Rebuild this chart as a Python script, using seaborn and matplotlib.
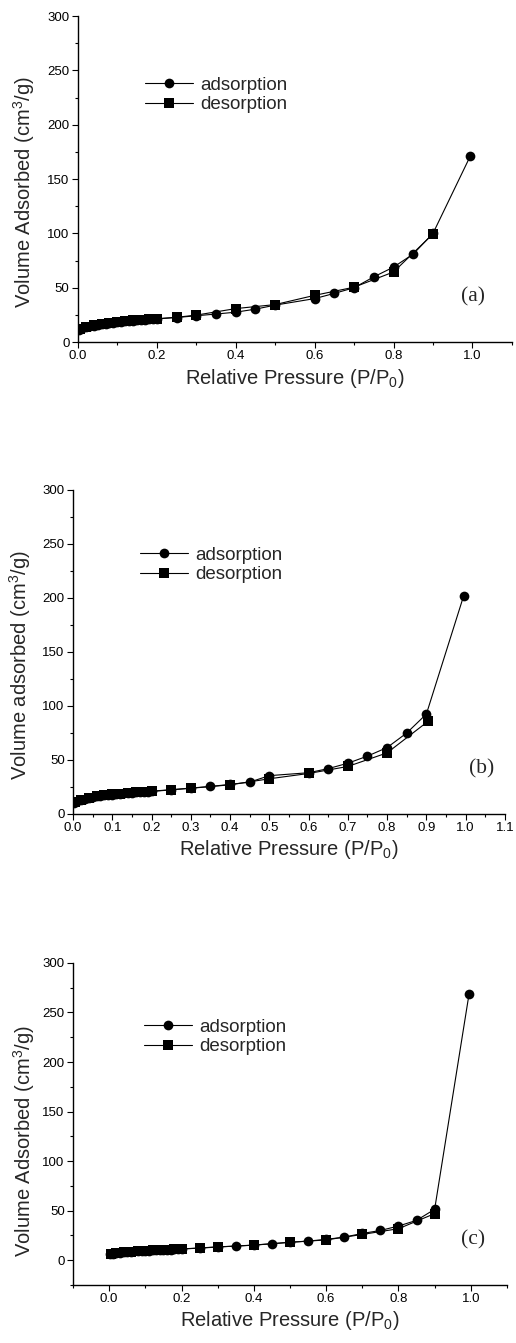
import matplotlib
matplotlib.use("Agg")
import matplotlib.pyplot as plt
from matplotlib.ticker import MultipleLocator
import seaborn as sns

# panel (a)
a_ads_x = [0.003, 0.01, 0.02, 0.03, 0.04, 0.05, 0.06, 0.07, 0.08, 0.09, 0.10, 0.11, 0.12, 0.13,
           0.14, 0.15, 0.16, 0.17, 0.18, 0.19, 0.20, 0.25, 0.30, 0.35, 0.40, 0.45, 0.50, 0.60,
           0.65, 0.70, 0.75, 0.80, 0.85, 0.90, 0.995]
a_ads_y = [11.0, 12.5, 13.6, 14.5, 15.2, 15.8, 16.4, 16.9, 17.4, 17.8, 18.2, 18.6, 19.0, 19.3,
           19.6, 19.9, 20.2, 20.5, 20.8, 21.0, 21.3, 22.6, 24.2, 25.8, 27.5, 30.3, 34.0, 40.0,
           44.8, 50.0, 60.0, 69.0, 81.0, 100.0, 171.5]
a_des_x = [0.90, 0.80, 0.70, 0.60, 0.50, 0.40, 0.30, 0.25, 0.20, 0.18, 0.16, 0.14, 0.12, 0.10,
           0.08, 0.06, 0.04, 0.02, 0.005]
a_des_y = [99.5, 64.5, 50.5, 43.0, 34.5, 30.8, 24.8, 22.8, 21.5, 21.0, 20.5, 20.0, 19.4, 18.7,
           17.9, 16.9, 15.6, 13.9, 11.8]

# panel (b)
b_ads_x = [0.003, 0.01, 0.02, 0.03, 0.04, 0.05, 0.06, 0.07, 0.08, 0.09, 0.10, 0.11, 0.12, 0.13,
           0.14, 0.15, 0.16, 0.17, 0.18, 0.19, 0.20, 0.25, 0.30, 0.35, 0.40, 0.45, 0.50, 0.60,
           0.65, 0.70, 0.75, 0.80, 0.85, 0.90, 0.995]
b_ads_y = [10.5, 12.2, 13.4, 14.3, 15.0, 15.6, 16.2, 16.7, 17.2, 17.6, 18.0, 18.4, 18.8, 19.1,
           19.4, 19.7, 20.0, 20.3, 20.6, 20.8, 21.1, 22.5, 24.0, 25.5, 27.4, 29.5, 35.5, 38.2,
           42.0, 47.0, 53.6, 61.5, 75.0, 92.5, 202.0]
b_des_x = [0.905, 0.80, 0.70, 0.60, 0.50, 0.40, 0.30, 0.25, 0.20, 0.18, 0.16, 0.14, 0.12, 0.10,
           0.08, 0.06, 0.04, 0.02, 0.005]
b_des_y = [86.0, 56.6, 44.0, 37.5, 32.6, 27.0, 23.8, 22.3, 20.9, 20.4, 19.9, 19.4, 18.8, 18.1,
           17.3, 16.3, 15.0, 13.3, 11.2]

# panel (c)
c_ads_x = [0.003, 0.01, 0.02, 0.03, 0.04, 0.05, 0.06, 0.07, 0.08, 0.09, 0.10, 0.11, 0.12, 0.13,
           0.14, 0.15, 0.16, 0.17, 0.18, 0.19, 0.20, 0.25, 0.30, 0.35, 0.40, 0.45, 0.50, 0.55,
           0.60, 0.65, 0.70, 0.75, 0.80, 0.85, 0.90, 0.995]
c_ads_y = [6.0, 6.6, 7.1, 7.5, 7.9, 8.2, 8.5, 8.8, 9.0, 9.2, 9.4, 9.6, 9.8, 10.0,
           10.2, 10.4, 10.6, 10.8, 11.0, 11.2, 11.4, 12.3, 13.5, 14.2, 15.2, 16.6, 18.2, 19.3,
           21.0, 23.3, 27.0, 30.0, 34.5, 40.2, 51.4, 268.3]
c_des_x = [0.90, 0.80, 0.70, 0.60, 0.50, 0.40, 0.30, 0.25, 0.20, 0.18, 0.16, 0.14, 0.12, 0.10,
           0.08, 0.06, 0.04, 0.02, 0.005]
c_des_y = [47.0, 31.8, 26.0, 20.5, 18.0, 15.3, 13.3, 12.2, 11.3, 11.0, 10.7, 10.4, 10.0, 9.6,
           9.1, 8.6, 8.0, 7.2, 6.3]

ylabels = ["Volume Adsorbed (cm$^3$/g)", "Volume adsorbed (cm$^3$/g)", "Volume Adsorbed (cm$^3$/g)"]
tags = ["(a)", "(b)", "(c)"]

sns.set_style("ticks")
plt.rcParams["font.family"] = ["Liberation Sans", "DejaVu Sans"]
plt.rcParams["mathtext.default"] = "regular"

fig = plt.figure(figsize=(5.16, 13.43), dpi=100)
axes = [
    fig.add_axes([0.151, 0.7453, 0.841, 0.2427]),
    fig.add_axes([0.1415, 0.3939, 0.837, 0.2413]),
    fig.add_axes([0.1415, 0.0432, 0.841, 0.2398]),
]

panels = [
    (a_ads_x, a_ads_y, a_des_x, a_des_y),
    (b_ads_x, b_ads_y, b_des_x, b_des_y),
    (c_ads_x, c_ads_y, c_des_x, c_des_y),
]
leg_anchor = [(0.154, 0.758), (0.155, 0.768), (0.164, 0.770)]
tag_pos = [(0.910, 0.140), (0.945, 0.138), (0.921, 0.140)]

for i, (ax, (ax_x, ax_y, dx, dy)) in enumerate(zip(axes, panels)):
    sns.lineplot(x=ax_x, y=ax_y, ax=ax, sort=False, estimator=None, color="black",
                 marker="o", markersize=7, markeredgewidth=0, linewidth=0.8, label="adsorption")
    sns.lineplot(x=dx, y=dy, ax=ax, sort=False, estimator=None, color="black",
                 marker="s", markersize=6.5, markeredgewidth=0, linewidth=0.8, label="desorption")

    sns.despine(ax=ax)
    ax.set_ylim(0, 300)
    ax.yaxis.set_major_locator(MultipleLocator(50))
    ax.yaxis.set_minor_locator(MultipleLocator(25))
    ax.set_xlim(0, 1.1)
    if i == 1:
        ax.xaxis.set_major_locator(MultipleLocator(0.1))
        ax.xaxis.set_minor_locator(MultipleLocator(0.05))
    else:
        ax.xaxis.set_major_locator(MultipleLocator(0.2))
        ax.xaxis.set_minor_locator(MultipleLocator(0.1))
    if i == 2:
        ax.set_xlim(-0.1, 1.1)
        ax.set_ylim(-25, 300)
        ax.set_xticks([0.0, 0.2, 0.4, 0.6, 0.8, 1.0])
        ax.set_yticks([0, 50, 100, 150, 200, 250, 300])

    ax.tick_params(which="major", direction="out", length=4, width=0.8, labelsize=9.5, pad=2,
                   color="black", labelcolor="black")
    ax.tick_params(which="minor", direction="out", length=2.5, width=0.8, color="black")
    for s in ["left", "bottom"]:
        ax.spines[s].set_linewidth(1.0)
        ax.spines[s].set_color("black")

    ax.set_xlabel("Relative Pressure (P/P$_0$)", fontsize=14.5, labelpad=3)
    ax.set_ylabel(ylabels[i], fontsize=14.5)

    ax.legend(loc="center left", bbox_to_anchor=leg_anchor[i],
              frameon=False, fontsize=13.5, handlelength=2.55, handletextpad=0.4,
              labelspacing=0.12, borderpad=0, borderaxespad=0)

    tx, ty = tag_pos[i]
    ax.text(tx, ty, tags[i], transform=ax.transAxes, ha="center", va="center",
            fontsize=15.5, family=["Liberation Serif", "DejaVu Serif"])

axes[0].yaxis.set_label_coords(-0.094, 0.46)
axes[1].yaxis.set_label_coords(-0.093, 0.46)
axes[2].yaxis.set_label_coords(-0.083, 0.447)

fig.savefig("out.png", dpi=100)
